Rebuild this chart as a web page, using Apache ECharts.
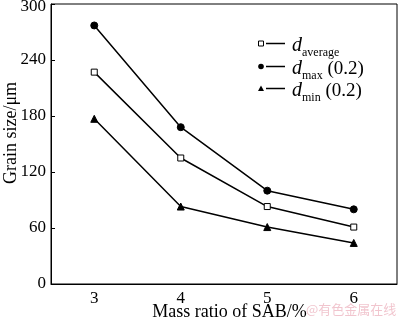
<!DOCTYPE html>
<html><head><meta charset="utf-8">
<script src="https://cdn.jsdelivr.net/npm/echarts@6/dist/echarts.min.js"></script>
<style>html,body{margin:0;padding:0;background:#fff}#c{width:400px;height:321px}</style>
</head><body><div id="c"></div>
<script>
const categories = ['3', '4', '5', '6'];
const dAverage = [227, 135, 83, 61];
const dMax = [277, 168, 100, 80];
const dMin = [177, 83, 61, 44];
const yTicks = { min: 0, max: 300, interval: 60 };

const FONT = '"Liberation Serif","Times New Roman",serif';
const chart = echarts.init(document.getElementById('c'), null, { renderer: 'canvas' });

function lineSeries(name, data, symbol, size, fill) {
  return {
    name, type: 'line', data, symbol, symbolSize: size,
    lineStyle: { color: '#000', width: 1.5 },
    itemStyle: { color: fill, borderColor: '#000', borderWidth: 1 },
    emphasis: { disabled: true }, animation: false
  };
}

const legendRows = [
  { y: 43.5, sym: 'rect', sub: 'average', tail: '' },
  { y: 66.5, sym: 'circle', sub: 'max', tail: ' (0.2)' },
  { y: 88.5, sym: 'tri', sub: 'min', tail: ' (0.2)' }
];
const graphics = [];
legendRows.forEach(r => {
  if (r.sym === 'rect') graphics.push({ type: 'rect', shape: { x: 258.5, y: r.y - 2.5, width: 5, height: 5 }, style: { fill: '#fff', stroke: '#000', lineWidth: 1 } });
  if (r.sym === 'circle') graphics.push({ type: 'circle', shape: { cx: 261, cy: r.y, r: 2.8 }, style: { fill: '#000' } });
  if (r.sym === 'tri') graphics.push({ type: 'polygon', shape: { points: [[261, r.y - 3], [264, r.y + 2.5], [258, r.y + 2.5]] }, style: { fill: '#000' } });
  graphics.push({ type: 'line', shape: { x1: 266, y1: r.y, x2: 285, y2: r.y }, style: { stroke: '#000', lineWidth: 1.5 } });
  graphics.push({
    type: 'text', x: 292, y: r.y + 2,
    style: {
      text: '{d|d}{s|' + r.sub + '}' + (r.tail ? '{t|' + r.tail + '}' : ''),
      verticalAlign: 'middle',
      rich: {
        d: { fontFamily: FONT, fontStyle: 'italic', fontSize: 20, fill: '#000', verticalAlign: 'bottom', lineHeight: 20 },
        s: { fontFamily: FONT, fontSize: 12, fill: '#000', verticalAlign: 'bottom', lineHeight: 20, padding: [0, 0, -3, 0] },
        t: { fontFamily: FONT, fontSize: 19, fill: '#000', verticalAlign: 'bottom', lineHeight: 20 }
      }
    }
  });
});
graphics.push({ type: 'text', x: 306, y: 303, style: { text: '@有色金属在线', fontFamily: '"Noto Sans CJK SC",sans-serif', fontSize: 13, fill: 'rgba(230,150,165,0.55)' } });

chart.setOption({
  animation: false,
  grid: { left: 51, right: 3, top: 4, bottom: 37, show: true, borderColor: '#000', borderWidth: 1, containLabel: false, outerBoundsMode: 'none' },
  xAxis: {
    type: 'category', data: categories, boundaryGap: true,
    name: 'Mass ratio of SAB/%', nameLocation: 'middle', nameGap: 19, nameMoveOverlap: false,
    nameTextStyle: { fontFamily: FONT, fontSize: 18, color: '#000', verticalAlign: 'top', padding: [0, 0, 0, 11] },
    axisLine: { lineStyle: { color: '#000', width: 1 } },
    axisTick: { inside: true, alignWithLabel: true, length: 4, lineStyle: { color: '#000' } },
    axisLabel: { fontFamily: FONT, fontSize: 17, color: '#000', margin: 6 },
    splitLine: { show: false }
  },
  yAxis: {
    type: 'value', min: yTicks.min, max: yTicks.max, interval: yTicks.interval,
    name: 'Grain size/μm', nameLocation: 'middle', nameGap: 31, nameRotate: 90, nameMoveOverlap: false,
    nameTextStyle: { fontFamily: FONT, fontSize: 18, color: '#000', padding: [0, 0, 0, 22] },
    axisLine: { show: true, lineStyle: { color: '#000', width: 1 } },
    axisTick: { show: true, inside: true, length: 4, lineStyle: { color: '#000' } },
    axisLabel: {
      fontFamily: FONT, fontSize: 17, color: '#000', margin: 5,
      formatter: v => v === yTicks.max ? '{t|' + v + '}' : String(v),
      rich: { t: { fontFamily: FONT, fontSize: 17, color: '#000', padding: [5, 0, 0, 0] } }
    },
    splitLine: { show: false }
  },
  series: [
    lineSeries('d_average', dAverage, 'rect', 6, '#fff'),
    lineSeries('d_max', dMax, 'circle', 7, '#000'),
    lineSeries('d_min', dMin, 'triangle', 7, '#000')
  ],
  graphic: graphics
});
</script></body></html>
